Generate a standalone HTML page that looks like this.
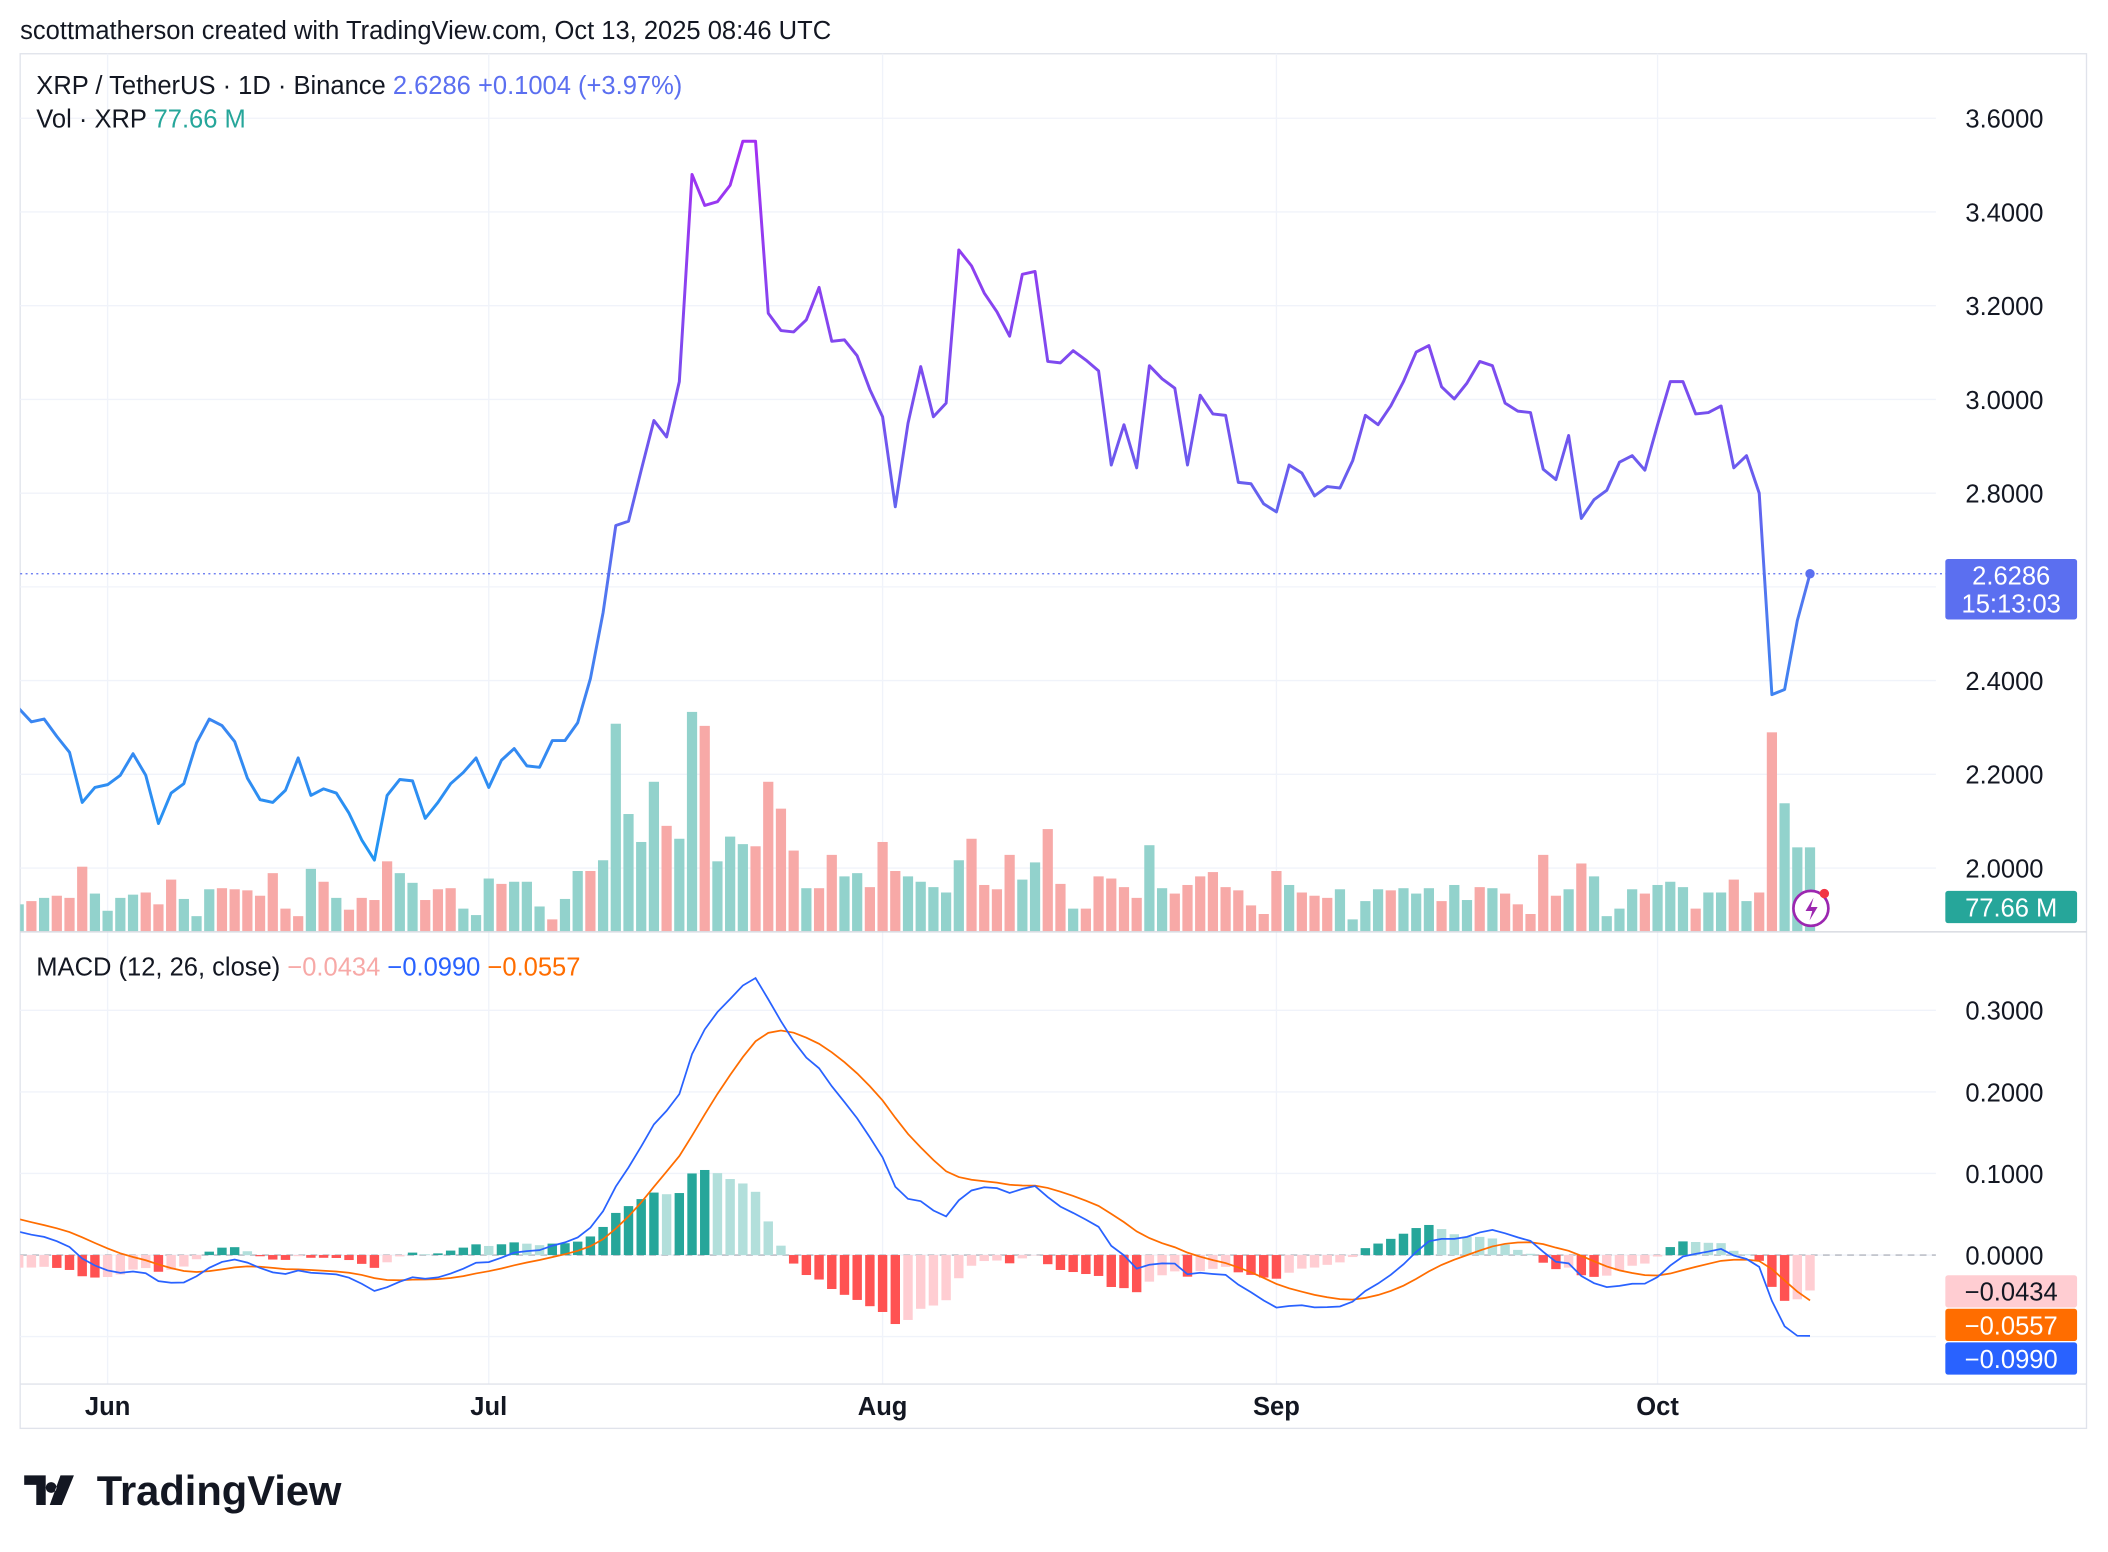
<!DOCTYPE html>
<html><head><meta charset="utf-8"><style>
html,body{margin:0;padding:0;background:#fff;}
svg{display:block;font-family:"Liberation Sans",sans-serif;}
</style></head><body>
<svg id="c" width="2108" height="1552" viewBox="0 0 1568 1155" preserveAspectRatio="none" xmlns="http://www.w3.org/2000/svg">
<defs>
<linearGradient id="pg" gradientUnits="userSpaceOnUse" x1="0" y1="100" x2="0" y2="640">
<stop offset="0" stop-color="#a42ff2"/><stop offset="0.4" stop-color="#7452ee"/><stop offset="0.65" stop-color="#4f79f0"/><stop offset="1" stop-color="#2196f3"/>
</linearGradient>
<clipPath id="pc"><rect x="15" y="40" width="1425" height="653"/></clipPath>
<clipPath id="mc"><rect x="15" y="694" width="1425" height="336"/></clipPath>
</defs>
<text x="15" y="29" font-size="19" fill="#131722">scottmatherson created with TradingView.com, Oct 13, 2025 08:46 UTC</text>
<rect x="15" y="40" width="1537" height="1023" fill="none" stroke="#e0e3eb" stroke-width="1"/>
<g id="grid"></g>
<g id="vol" clip-path="url(#pc)"></g>
<g id="price" clip-path="url(#pc)"></g>
<g id="macd" clip-path="url(#mc)"></g>
<g id="axes"></g>
<text x="27" y="70" font-size="19" fill="#131722">XRP / TetherUS · 1D · Binance <tspan fill="#5b6ff0">2.6286</tspan> <tspan fill="#5b6ff0">+0.1004 (+3.97%)</tspan></text>
<text x="27" y="95" font-size="19" fill="#131722">Vol · XRP <tspan fill="#26a69a">77.66 M</tspan></text>
<text x="27" y="726" font-size="19" fill="#131722">MACD (12, 26, close) <tspan fill="#f7a9a7">−0.0434</tspan> <tspan fill="#2962ff">−0.0990</tspan> <tspan fill="#ff6d00">−0.0557</tspan></text>
<g>
<path d="M18 1098h16v22h-7v-15h-9z M38 1103a4 4 0 1 0 0.1 0z M45 1098h10l-9 22h-9z" fill="#131722"/>
<text x="72" y="1120" font-size="31" font-weight="bold" fill="#131722">TradingView</text>
</g>
</svg>
<script>
const price=[2.341,2.312,2.318,2.281,2.247,2.14,2.172,2.178,2.198,2.244,2.198,2.095,2.16,2.18,2.267,2.318,2.304,2.27,2.192,2.146,2.14,2.166,2.235,2.155,2.169,2.16,2.117,2.06,2.017,2.155,2.189,2.186,2.106,2.14,2.18,2.204,2.235,2.172,2.23,2.255,2.218,2.215,2.272,2.272,2.31,2.404,2.545,2.731,2.74,2.849,2.955,2.92,3.038,3.48,3.414,3.422,3.457,3.551,3.551,3.184,3.147,3.144,3.17,3.239,3.124,3.127,3.093,3.021,2.963,2.771,2.949,3.07,2.963,2.992,3.319,3.285,3.227,3.187,3.135,3.267,3.273,3.081,3.078,3.104,3.084,3.061,2.86,2.946,2.854,3.072,3.044,3.024,2.86,3.009,2.969,2.966,2.823,2.82,2.777,2.76,2.86,2.843,2.794,2.814,2.811,2.869,2.966,2.946,2.986,3.038,3.101,3.115,3.027,3.001,3.035,3.081,3.072,2.992,2.975,2.972,2.851,2.829,2.923,2.746,2.786,2.806,2.866,2.88,2.849,2.946,3.038,3.038,2.969,2.972,2.986,2.854,2.88,2.8,2.37,2.381,2.528,2.628];
const volume=[25,28,31,33,31,60,35,19,31,34,36,25,48,30,14,39,40,39,38,33,54,21,14,58,46,31,20,31,29,65,54,45,29,39,40,21,15,49,44,46,46,23,11,30,56,56,66,193,109,83,139,98,86,204,191,65,88,81,79,139,114,75,40,40,71,51,54,41,83,56,51,46,41,36,66,86,43,39,71,48,64,95,44,21,21,51,49,41,31,80,40,35,43,51,55,41,38,24,16,56,43,36,33,31,39,11,28,39,38,40,35,40,28,43,29,41,40,35,25,16,71,33,39,63,51,14,21,39,35,43,46,41,21,36,36,48,28,36,185,119,78,78];
const volDir=("g r g r r r g g g g "+"r r r g g g r r r r "+"r r r g r g r r r r "+"g g r r r g g g r g "+"g g r g g r g g g g "+"g r g g r g g g r r "+"r r g r r g g r r r "+"g g g g g r r r r g "+"g r r g r r r r r g "+"g r "+"r r r r r r r "+"r g r r r "+"g g g g r g g g "+"r g g r g r r r r "+"r g r g g g g r g g g r g g r g r r g g "+"g").trim().split(" ");
const priceTicks=[3.6,3.4,3.2,3.0,2.8,2.6,2.4,2.2,2.0];
const macdTicks=[0.3,0.2,0.1,0.0];
const monthLabels=["Jun","Jul","Aug","Sep","Oct"];
const monthIdx=[7,37,68,99,129];

const NS="http://www.w3.org/2000/svg";
function mk(tag,attrs,parent,text){const e=document.createElementNS(NS,tag);for(const k in attrs)e.setAttribute(k,attrs[k]);if(text!==undefined)e.textContent=text;parent.appendChild(e);return e;}
const X=i=>13.9+9.45*i;
const PY=p=>88+(3.6-p)*348.75;
const VY=v=>693-v*0.8;
const MY=v=>934-v*607;
const G=id=>document.getElementById(id);
const grid=G('grid'),axes=G('axes');

priceTicks.forEach(t=>{const l=mk('line',{x1:15,x2:1440,y1:PY(t),y2:PY(t),stroke:'#f0f3fa'},grid);


const tx=mk('text',{x:1520,y:PY(t)+7,'font-size':19,'text-anchor':'end',fill:'#131722'},axes,t.toFixed(4));

});
macdTicks.forEach(t=>{const l=mk('line',{x1:15,x2:1440,y1:MY(t),y2:MY(t),stroke:'#f0f3fa'},grid);


const tx=mk('text',{x:1520,y:MY(t)+7,'font-size':19,'text-anchor':'end',fill:'#131722'},axes,t.toFixed(4));

});
mk('line',{x1:15,x2:1440,y1:MY(-0.1),y2:MY(-0.1),stroke:'#f0f3fa'},grid);
monthIdx.forEach((d,k)=>{const l=mk('line',{x1:X(d),x2:X(d),y1:40,y2:1030,stroke:'#f0f3fa'},grid);


const tx=mk('text',{x:X(d),y:1053,'font-size':19,'font-weight':'bold','text-anchor':'middle',fill:'#131722'},axes,monthLabels[k]);

});
const sep=mk('line',{x1:15,x2:1552,y1:693.5,y2:693.5,stroke:'#d1d4dc'},axes);


mk('line',{x1:15,x2:1552,y1:1030,y2:1030,stroke:'#e0e3eb'},axes);

const vol=G('vol');
volume.forEach((v,i)=>{const r=mk('rect',{x:X(i)-3.8,y:VY(v),width:7.6,height:v*0.8,fill:volDir[i]==='r'?'#f7a9a7':'#92d2cc'},vol);

});

const pr=G('price');
const pl=mk('polyline',{points:price.map((p,i)=>X(i)+','+PY(p)).join(' '),fill:'none',stroke:'url(#pg)','stroke-width':2.2,'stroke-linejoin':'round'},pr);


const last=price.length-1;
const dl=mk('line',{x1:15,x2:1448,y1:PY(price[last]),y2:PY(price[last]),stroke:'#5b6ff0','stroke-dasharray':'1.5 2.5','stroke-width':1},axes);


const dot=mk('circle',{cx:X(last),cy:PY(price[last]),r:3.5,fill:'#5b6ff0'},axes);



let e12=2.33,e26=2.30,sig=0.048;const a12=2/13,a26=2/27,a9=2/10;
const macd=[],signal=[],hist=[];
price.forEach((p,i)=>{e12=e12+a12*(p-e12);e26=e26+a26*(p-e26);const m=e12-e26;sig=sig+a9*(m-sig);macd.push(m);signal.push(sig);hist.push(m-sig);});
const mg=G('macd');
const z=mk('line',{x1:15,x2:1440,y1:MY(0),y2:MY(0),stroke:'#b2b5be','stroke-dasharray':'5 4'},mg);


hist.forEach((h,i)=>{const prev=i?hist[i-1]:h;let c;
 if(h>=0)c=h>=prev?'#26a69a':'#b2dfdb';else c=h<prev?'#ff5252':'#ffcdd2';
 const y0=MY(0),y1=MY(h);
 const r=mk('rect',{x:X(i)-3.5,y:Math.min(y0,y1),width:7,height:Math.abs(y1-y0),fill:c},mg);
 
 });
const sl=mk('polyline',{points:signal.map((v,i)=>X(i)+','+MY(v)).join(' '),fill:'none',stroke:'#ff6d00','stroke-width':1.3},mg);


const ml=mk('polyline',{points:macd.map((v,i)=>X(i)+','+MY(v)).join(' '),fill:'none',stroke:'#2962ff','stroke-width':1.3},mg);



function badge(name,y,h,fill,color,lines){const g=mk('g',{},axes);
 
 
 mk('rect',{x:1447,y:y,width:98,height:h,fill:fill,rx:2},g);
 lines.forEach((t,k)=>mk('text',{x:1496,y:y+19+k*21,'font-size':19,'text-anchor':'middle',fill:color},g,t));}
badge('price-badge',416,45,'#5b6ff0','#fff',['2.6286','15:13:03']);
badge('volume-badge',663,24,'#26a69a','#fff',['77.66 M']);
badge('histogram-badge',949,24,'#ffcdd2','#131722',['−0.0434']);
badge('signal-badge',974,24,'#ff6d00','#fff',['−0.0557']);
badge('macd-badge',999,24,'#2962ff','#fff',['−0.0990']);

const ic=mk('g',{},axes);


mk('circle',{cx:1347,cy:676,r:13,fill:'#fff',stroke:'#9c27b0','stroke-width':2},ic);
mk('path',{d:'M1349 668l-6 10h5l-2 7 6-10h-5z',fill:'#9c27b0'},ic);
mk('circle',{cx:1357,cy:665,r:3.5,fill:'#f23645'},ic);
</script>
</body></html>
